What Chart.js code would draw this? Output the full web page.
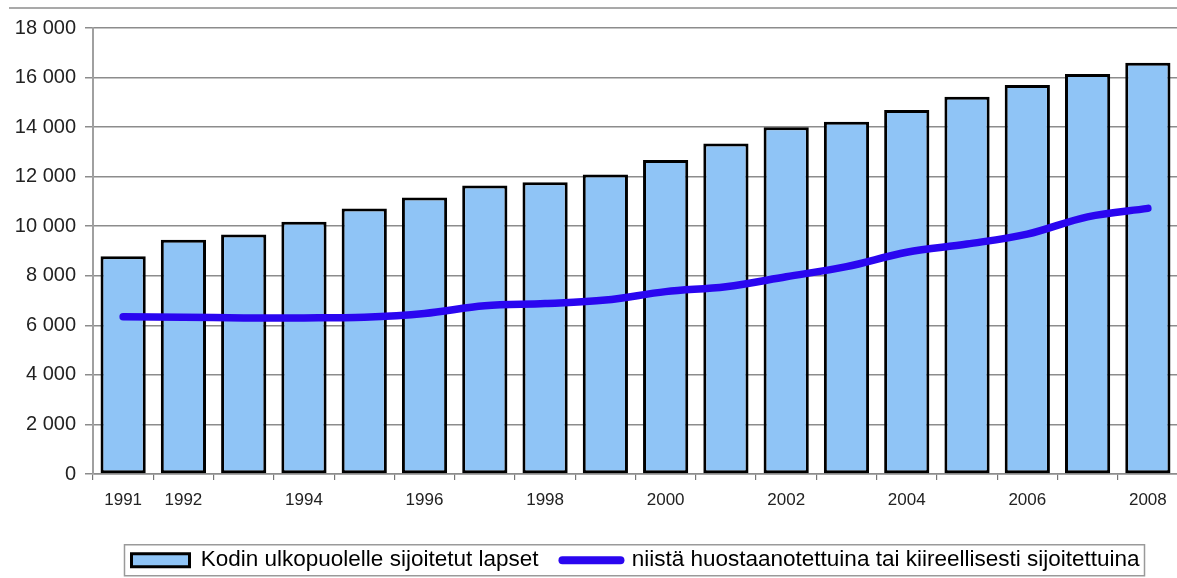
<!DOCTYPE html>
<html>
<head>
<meta charset="utf-8">
<script src="https://cdn.jsdelivr.net/npm/chart.js@4.4.0/dist/chart.umd.min.js"></script>
<style>
  html, body { margin: 0; padding: 0; background: #fff; overflow: hidden; }
  #wrap { position: absolute; left: 0; top: 0; width: 1180px; height: 578px; }
</style>
</head>
<body>
<div id="wrap"><canvas id="c" width="1180" height="578"></canvas></div>
<script>
const years = ['1991','1992','1993','1994','1995','1996','1997','1998','1999','2000','2001','2002','2003','2004','2005','2006','2007','2008'];
const shownYearLabels = ['1991','1992','1994','1996','1998','2000','2002','2004','2006','2008'];
const placedChildren = [8790, 9450, 9670, 10180, 10720, 11160, 11640, 11770, 12090, 12670, 13340, 13990, 14220, 14690, 15230, 15700, 16140, 16600];
const takenIntoCare = [6350, 6330, 6300, 6300, 6330, 6480, 6790, 6880, 7020, 7360, 7560, 7960, 8370, 8950, 9280, 9680, 10380, 10720];
const yTickValues = [0, 2000, 4000, 6000, 8000, 10000, 12000, 14000, 16000, 18000];
const seriesNames = ['Kodin ulkopuolelle sijoitetut lapset', 'niistä huostaanotettuina tai kiireellisesti sijoitettuina'];

const BAR_FILL = '#8fc4f6';
const LINE_COLOR = '#2a06f0';
const FONT = 'Arial, "Liberation Sans", sans-serif';

const framePlugin = {
  id: 'frame',
  beforeDraw(chart) {
    const ctx = chart.ctx;
    ctx.save();
    ctx.strokeStyle = '#8c8c8c';
    ctx.lineWidth = 1.5;
    ctx.beginPath();
    ctx.moveTo(9, 8);
    ctx.lineTo(chart.width, 8);
    ctx.stroke();
    ctx.restore();
  },
  afterDraw(chart) {
    const lg = chart.legend;
    if (!lg || !lg.legendHitBoxes || !lg.legendHitBoxes.length) return;
    const hb = lg.legendHitBoxes;
    let l = Infinity, r = -Infinity, cy = 0;
    hb.forEach(h => { l = Math.min(l, h.left); r = Math.max(r, h.left + h.width); cy = h.top + h.height / 2; });
    const ctx = chart.ctx;
    ctx.save();
    ctx.strokeStyle = '#9a9a9a';
    ctx.lineWidth = 1.5;
    ctx.strokeRect(l - 7, cy - 15.5, (r - l) + 12, 31);
    ctx.restore();
  }
};

new Chart(document.getElementById('c'), {
  data: {
    labels: years,
    datasets: [
      {
        type: 'line',
        label: seriesNames[1],
        data: takenIntoCare,
        borderColor: LINE_COLOR,
        backgroundColor: LINE_COLOR,
        borderWidth: 7.5,
        borderCapStyle: 'round',
        borderJoinStyle: 'round',
        tension: 0.35,
        pointRadius: 0,
        fill: false,
        order: 0
      },
      {
        type: 'bar',
        label: seriesNames[0],
        data: placedChildren,
        backgroundColor: BAR_FILL,
        borderColor: '#000',
        borderWidth: 3,
        borderSkipped: false,
        barPercentage: 0.75,
        categoryPercentage: 1.0,
        order: 1
      }
    ]
  },
  options: {
    responsive: false,
    animation: false,
    devicePixelRatio: 1,
    layout: { padding: { top: 28, left: 0, right: 2, bottom: -3.5 } },
    plugins: {
      tooltip: { enabled: false },
      legend: {
        position: 'bottom',
        fullSize: false,
        labels: {
          font: { family: FONT, size: 22.5 },
          color: '#222',
          padding: 24,
          usePointStyle: true,
          pointStyleWidth: 58,
          boxHeight: 13,
          generateLabels(chart) {
            return [
              { text: seriesNames[0], pointStyle: 'rect', fillStyle: BAR_FILL, strokeStyle: '#000', lineWidth: 3, datasetIndex: 1, hidden: false },
              { text: seriesNames[1], pointStyle: 'line', fillStyle: LINE_COLOR, strokeStyle: LINE_COLOR, lineWidth: 8, lineCap: 'round', datasetIndex: 0, hidden: false }
            ];
          }
        }
      }
    },
    scales: {
      x: {
        offset: true,
        grid: { display: true, drawOnChartArea: false, drawTicks: true, tickLength: 6, color: '#777', lineWidth: 1.2, offset: true },
        border: { display: true, color: '#8c8c8c', width: 1.5 },
        ticks: {
          autoSkip: false, maxRotation: 0, padding: 10,
          font: { family: FONT, size: 17 }, color: '#222',
          callback(v, i) { const y = years[i]; return shownYearLabels.includes(y) ? y : ''; }
        },
        afterFit(scale) { scale.height = 51; }
      },
      y: {
        min: 0, max: 18000,
        afterBuildTicks(scale) { scale.ticks = yTickValues.map(v => ({ value: v })); },
        grid: { color: '#8c8c8c', lineWidth: 1.5, tickLength: 8 },
        border: { display: true, color: '#a0a0a0', width: 2 },
        ticks: {
          padding: 9,
          font: { family: FONT, size: 20 }, color: '#222',
          callback(v) { return String(v).replace(/\B(?=(\d{3})+(?!\d))/g, ' '); }
        },
        afterFit(scale) { scale.width = 93; }
      }
    }
  },
  plugins: [framePlugin]
});
</script>
</body>
</html>
